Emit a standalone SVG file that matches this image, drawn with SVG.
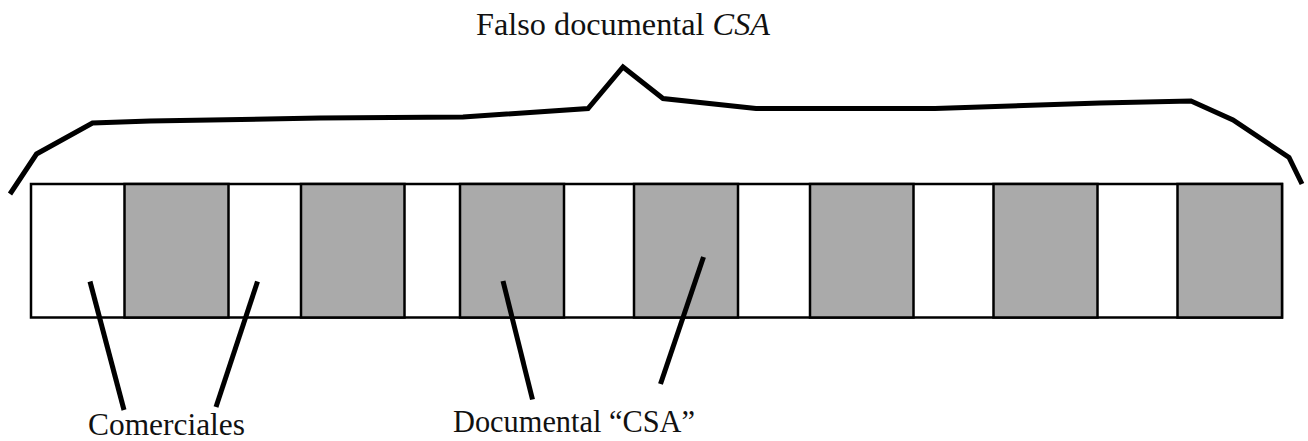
<svg xmlns="http://www.w3.org/2000/svg" width="1308" height="441" viewBox="0 0 1308 441">
  <style>
    .lbl { font-family: "Liberation Serif", "DejaVu Serif", serif; font-size: 31px; fill: #111; }
    .seg { stroke: #000; stroke-width: 2.5; }
    .doc { fill: #aaaaaa; }
    .thick { fill: none; stroke: #000; stroke-width: 5; stroke-linejoin: miter; }
  </style>
  <rect width="1308" height="441" fill="#ffffff"/>

  <!-- Title -->
  <g id="title">
    <text class="lbl" x="623" y="35" text-anchor="middle" textLength="294" lengthAdjust="spacingAndGlyphs">Falso documental <tspan font-style="italic">CSA</tspan></text>
  </g>

  <!-- Brace over the whole strip -->
  <g id="brace">
    <polyline class="thick" points="10,194 36.5,154 92.5,123 150,121 320,118 463,117 588,108.5 623,67 663,98.5 756,108.5 935,108.5 1100,103 1191,101 1233,120 1289,157.5 1302,184"/>
  </g>

  <!-- Programming strip: commercials (white) and documentary segments (gray) -->
  <g id="strip">
    <rect class="seg" x="31" y="184" width="1251" height="133.5" fill="#ffffff"/>
    <rect class="seg doc" x="124.5" y="184" width="104" height="133.5"/>
    <rect class="seg doc" x="301" y="184" width="103.5" height="133.5"/>
    <rect class="seg doc" x="460" y="184" width="104" height="133.5"/>
    <rect class="seg doc" x="634" y="184" width="104" height="133.5"/>
    <rect class="seg doc" x="810" y="184" width="103.5" height="133.5"/>
    <rect class="seg doc" x="993.5" y="184" width="104" height="133.5"/>
    <rect class="seg doc" x="1177.5" y="184" width="104.5" height="133.5"/>
  </g>

  <!-- Leader lines -->
  <g id="connectors">
    <line class="thick" x1="90" y1="281.5" x2="124" y2="410"/>
    <line class="thick" x1="257.5" y1="281.5" x2="216" y2="407"/>
    <line class="thick" x1="503" y1="281" x2="532.5" y2="399.5"/>
    <line class="thick" x1="703.5" y1="257" x2="660.5" y2="384"/>
  </g>

  <!-- Labels -->
  <g id="label-comerciales">
    <text class="lbl" x="166.5" y="435" text-anchor="middle" textLength="157" lengthAdjust="spacingAndGlyphs">Comerciales</text>
  </g>
  <g id="label-documental">
    <text class="lbl" x="574" y="432" text-anchor="middle" textLength="242" lengthAdjust="spacingAndGlyphs">Documental “CSA”</text>
  </g>
</svg>
